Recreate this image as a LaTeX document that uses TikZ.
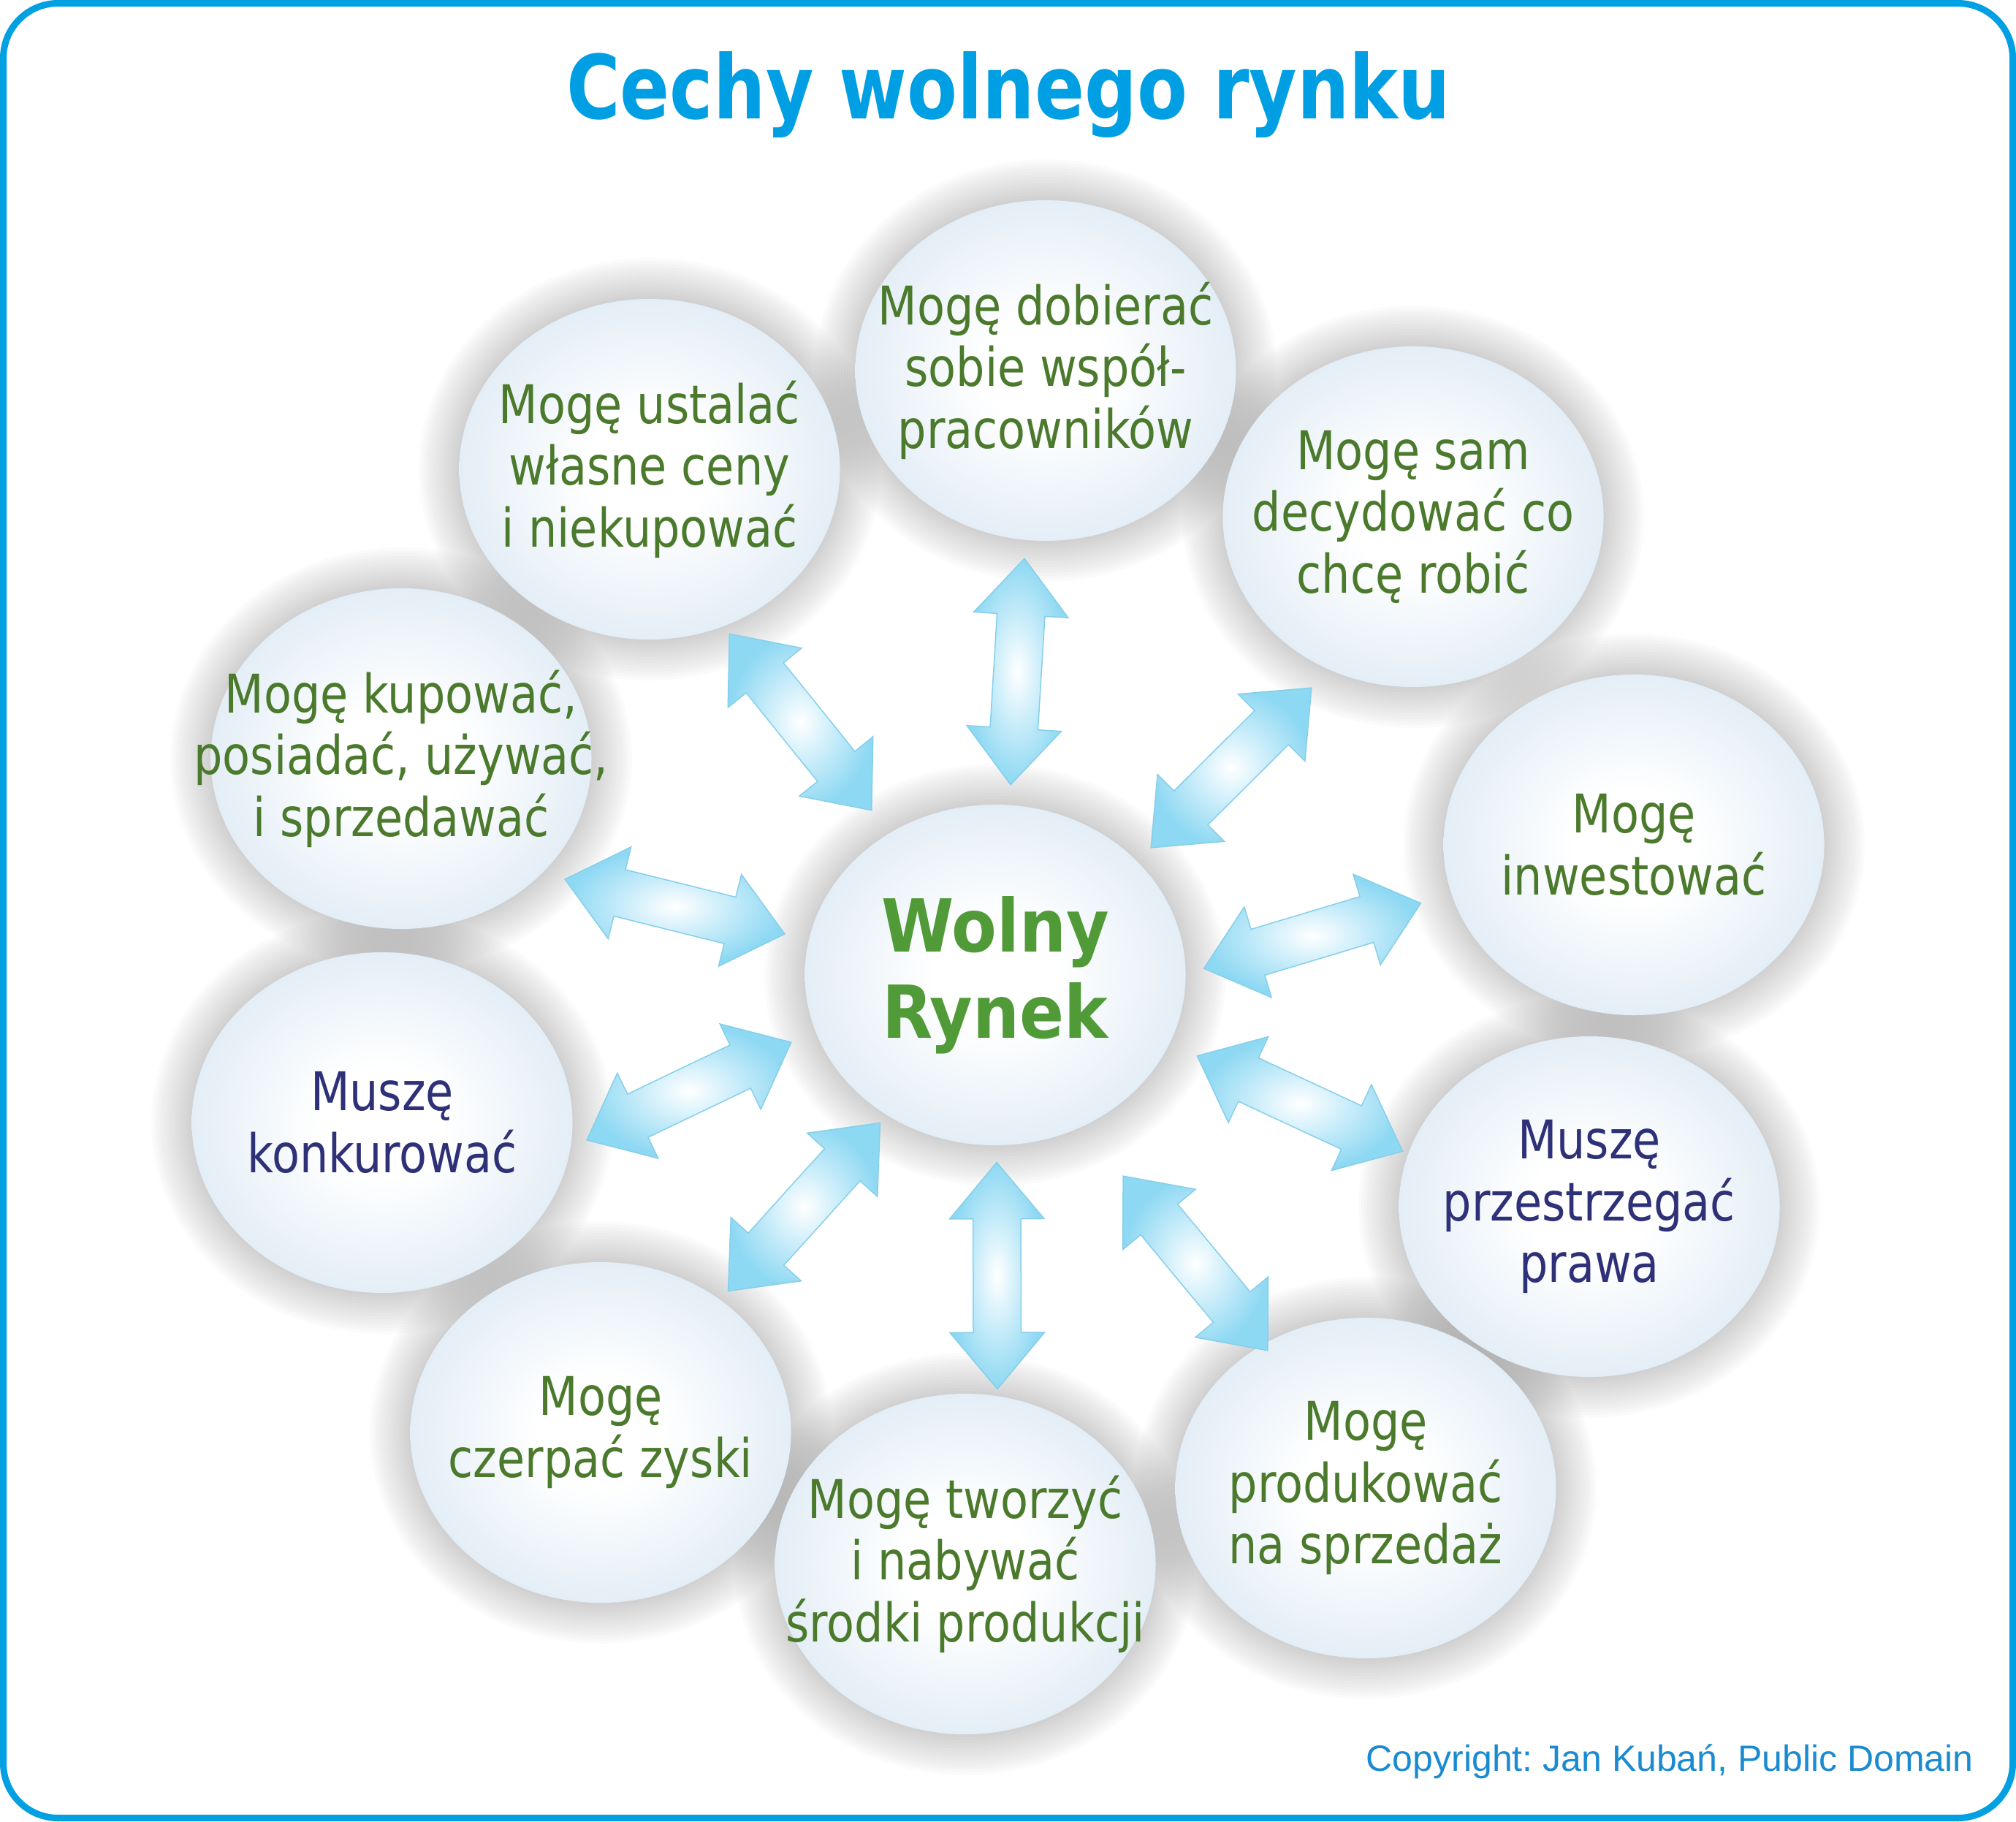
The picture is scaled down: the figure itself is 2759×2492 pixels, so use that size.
\documentclass[tikz,border=0pt]{standalone}
\usepackage{fontspec}
\setmainfont{DejaVu Sans}
\newfontfamily\tah{DejaVu Sans}[FakeStretch=0.85]
\newfontfamily\tahb{DejaVu Sans}[FakeStretch=0.83]
\newfontfamily\cfont{DejaVu Sans}[FakeStretch=0.9]
\newfontfamily\arialf{Liberation Sans}
\usetikzlibrary{shapes.geometric,shapes.arrows}
\pgfdeclarelayer{bg}
\pgfsetlayers{bg,main}
\frenchspacing
\definecolor{mgreen}{HTML}{4B7A2C}
\definecolor{mnavy}{HTML}{2E3078}
\definecolor{cgreen}{HTML}{519A38}
\definecolor{titleblue}{HTML}{009FE3}
\definecolor{copyblue}{HTML}{1B8BD1}
\definecolor{framec}{HTML}{00A0E3}
\definecolor{arrowblue}{HTML}{8DD8F3}
\definecolor{arrowline}{HTML}{86CFEA}
\definecolor{ellblue}{HTML}{E4EEF6}
\pgfdeclareradialshading{ellsh}{\pgfpointorigin}{color(0bp)=(white); color(8bp)=(white); color(25bp)=(ellblue); color(50bp)=(ellblue)}
\tikzset{
  ell/.style={ellipse, minimum width=521pt, minimum height=466pt, inner sep=0pt,
    shading=ellsh},
  txt/.style={align=center, inner sep=0pt, font=\tah\fontsize{73}{84.5}\selectfont, text=mgreen},
  txtnavy/.style={txt, text=mnavy},
  txtcenter/.style={txt, font=\cfont\bfseries\fontsize{100}{118}\selectfont, text=cgreen},
  dbl/.style={double arrow, draw=arrowline, line width=1.5pt,
    inner color=white, outer color=arrowblue,
    minimum height=310pt, minimum width=128pt, inner xsep=0pt, inner ysep=32pt,
    double arrow head extend=32pt, double arrow tip angle=80, outer sep=0pt},
  halo/.style={fill=black!55, opacity=0.022}
}
\begin{document}
\begin{tikzpicture}[x=1pt,y=-1pt]
\useasboundingbox (0,0) rectangle (2759,2492);
% frame
\draw[framec, line width=9pt, rounded corners=75pt] (4.5,4.5) rectangle (2754.5,2487.5);
% title
\node[anchor=base, inner sep=0pt, text=titleblue, font=\tahb\bfseries\fontsize{121}{130}\selectfont] (title) at (1380,162) {Cechy wolnego rynku};
% ellipses
\node[ell] (c) at (1362,1334) {};
\node[ell] (e1) at (1431,507) {};
\node[ell] (e2) at (889,642) {};
\node[ell] (e3) at (1934,707) {};
\node[ell] (e4) at (549,1038) {};
\node[ell] (e5) at (2236,1156) {};
\node[ell] (e7) at (523,1536) {};
\node[ell] (e8) at (2175,1651) {};
\node[ell] (e9) at (822,1960) {};
\node[ell] (e10) at (1869,2036) {};
\node[ell] (e11) at (1321,2140) {};
% texts
\node[txtcenter] (ct) at (c) {Wolny\\Rynek};
\node[txt] (t1) at (e1) {Mogę dobierać\\sobie współ-\\pracowników};
\node[txt] (t2) at (e2) {Mogę ustalać\\własne ceny\\i niekupować};
\node[txt] (t3) at (e3) {Mogę sam\\decydować co\\chcę robić};
\node[txt] (t4) at (e4) {Mogę kupować,\\posiadać, używać,\\i sprzedawać};
\node[txt] (t5) at (e5) {Mogę\\inwestować};
\node[txtnavy] (t7) at (e7) {Muszę\\konkurować};
\node[txtnavy] (t8) at (e8) {Muszę\\przestrzegać\\prawa};
\node[txt] (t9) at (e9) {Mogę\\czerpać zyski};
\node[txt] (t10) at (e10) {Mogę\\produkować\\na sprzedaż};
\node[txt] (t11) at (e11) {Mogę tworzyć\\i nabywać\\środki produkcji};
% halos
\begin{pgfonlayer}{bg}
\fill[white] (0,0) rectangle (2759,2492);
\foreach \n in {c,e1,e2,e3,e4,e5,e7,e8,e9,e10,e11}{
  \foreach \k in {1,...,14}{
    \fill[halo] (\n.center) ellipse [x radius=260pt+4pt*\k, y radius=233pt+4pt*\k];
  }
}
\end{pgfonlayer}
% arrow end points
\coordinate (a1) at (1402,764);  \coordinate (a2) at (1383,1074);
\coordinate (b1) at (998,867);   \coordinate (b2) at (1193,1109);
\coordinate (k1) at (1794,942);  \coordinate (k2) at (1576,1159);
\coordinate (d1) at (773,1203);  \coordinate (d2) at (1074,1278);
\coordinate (f1) at (1944,1236); \coordinate (f2) at (1648,1325);
\coordinate (g1) at (803,1560);  \coordinate (g2) at (1083,1426);
\coordinate (h1) at (1919,1575); \coordinate (h2) at (1639,1445);
\coordinate (m1) at (997,1766);  \coordinate (m2) at (1204,1537);
\coordinate (n1) at (1365,1900); \coordinate (n2) at (1364,1591);
\coordinate (p1) at (1735,1848); \coordinate (p2) at (1537,1609);
% arrows
\path (a1) -- (a2) node[midway, sloped, dbl] (arA) {};
\path (b1) -- (b2) node[midway, sloped, dbl] (arB) {};
\path (k1) -- (k2) node[midway, sloped, dbl] (arC) {};
\path (d1) -- (d2) node[midway, sloped, dbl] (arD) {};
\path (f1) -- (f2) node[midway, sloped, dbl] (arE) {};
\path (g1) -- (g2) node[midway, sloped, dbl] (arF) {};
\path (h1) -- (h2) node[midway, sloped, dbl] (arG) {};
\path (m1) -- (m2) node[midway, sloped, dbl] (arH) {};
\path (n1) -- (n2) node[midway, sloped, dbl] (arI) {};
\path (p1) -- (p2) node[midway, sloped, dbl] (arJ) {};
% copyright
\node[anchor=base east, inner sep=0pt, text=copyblue, font=\arialf\fontsize{50}{60}\selectfont] (copy) at (2701,2423) {Copyright: Jan Kubań, Public Domain};
\end{tikzpicture}
\end{document}
